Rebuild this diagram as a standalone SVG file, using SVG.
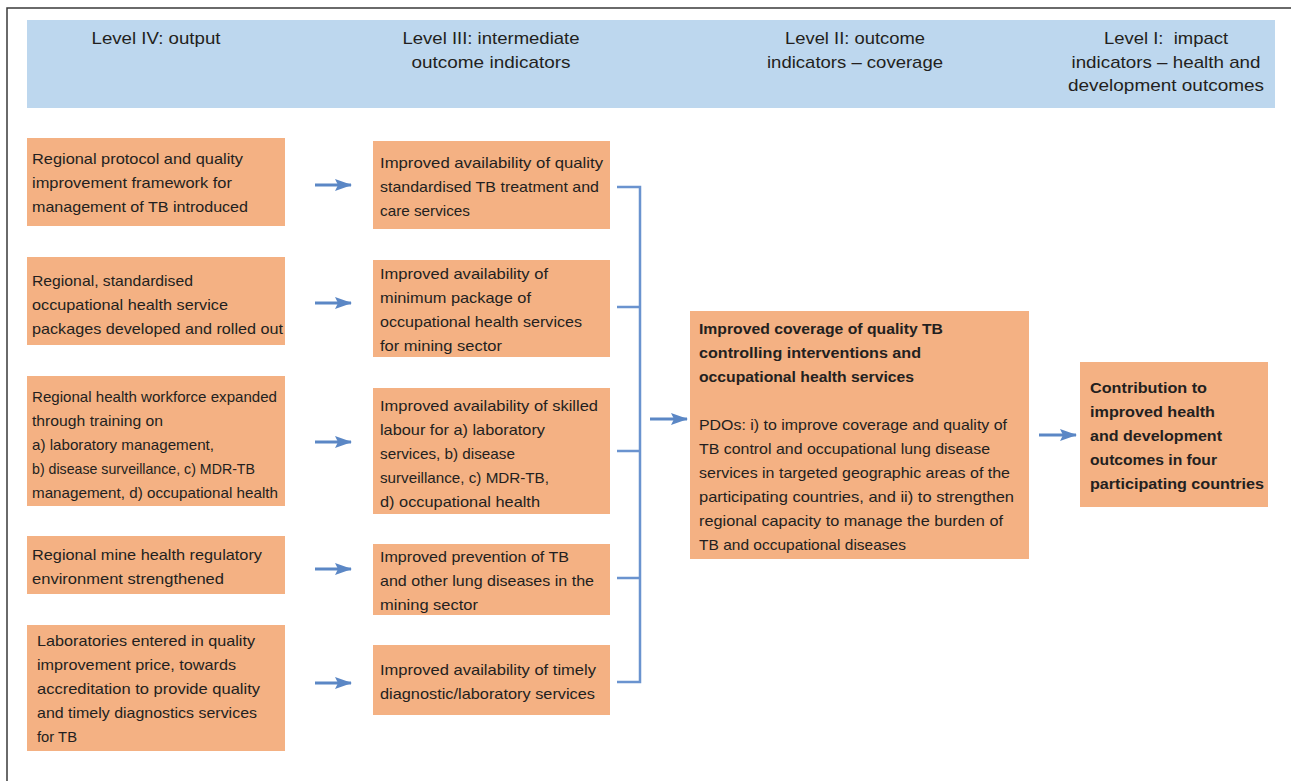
<svg xmlns="http://www.w3.org/2000/svg" width="1291" height="781" viewBox="0 0 1291 781">
<defs>
<style>
.box{fill:#f4b183;}
.hdr{fill:#bdd7ee;}
.t{font-family:"Liberation Sans",Arial,sans-serif;font-size:15px;fill:#231f20;}
.b{font-weight:bold;}
.h{font-family:"Liberation Sans",Arial,sans-serif;font-size:17px;fill:#231f20;text-anchor:middle;}
.ln{stroke:#6a93cf;stroke-width:2.5;fill:none;}
.ar{stroke:#5b87c5;stroke-width:3;fill:none;}
</style>
<marker id="ah" markerWidth="17" markerHeight="12" refX="16" refY="6" orient="auto" markerUnits="userSpaceOnUse">
<path d="M0,0 L17,6 L0,12 L3,6 Z" fill="#5b87c5"/>
</marker>
</defs>
<rect width="1291" height="781" fill="#ffffff"/>
<path d="M7,781 V8 H1291" fill="none" stroke="#3a3a3a" stroke-width="1.5"/>

<g id="header">
<rect class="hdr" x="27" y="20" width="1248" height="88"/>
<text class="h" x="156" y="44" textLength="129" lengthAdjust="spacingAndGlyphs">Level IV: output</text>
<text class="h" x="491" y="44" textLength="177" lengthAdjust="spacingAndGlyphs">Level III: intermediate</text>
<text class="h" x="491" y="68" textLength="159" lengthAdjust="spacingAndGlyphs">outcome indicators</text>
<text class="h" x="855" y="44" textLength="140" lengthAdjust="spacingAndGlyphs">Level II: outcome</text>
<text class="h" x="855" y="68" textLength="176" lengthAdjust="spacingAndGlyphs">indicators – coverage</text>
<text class="h" x="1166" y="44" textLength="124" lengthAdjust="spacingAndGlyphs" xml:space="preserve">Level I:  impact</text>
<text class="h" x="1166" y="68" textLength="189" lengthAdjust="spacingAndGlyphs">indicators – health and</text>
<text class="h" x="1166" y="91" textLength="196" lengthAdjust="spacingAndGlyphs">development outcomes</text>
</g>

<g id="out1">
<rect class="box" x="27" y="138" width="258" height="88"/>
<text class="t" x="32" y="164" textLength="211" lengthAdjust="spacingAndGlyphs">Regional protocol and quality</text>
<text class="t" x="32" y="188" textLength="200" lengthAdjust="spacingAndGlyphs">improvement framework for</text>
<text class="t" x="32" y="212" textLength="216" lengthAdjust="spacingAndGlyphs">management of TB introduced</text>
</g>
<g id="out2">
<rect class="box" x="27" y="257" width="258" height="88"/>
<text class="t" x="32" y="286" textLength="161" lengthAdjust="spacingAndGlyphs">Regional, standardised</text>
<text class="t" x="32" y="310" textLength="196" lengthAdjust="spacingAndGlyphs">occupational health service</text>
<text class="t" x="32" y="334" textLength="251" lengthAdjust="spacingAndGlyphs">packages developed and rolled out</text>
</g>
<g id="out3">
<rect class="box" x="27" y="376" width="258" height="130"/>
<text class="t" x="32" y="402" textLength="245" lengthAdjust="spacingAndGlyphs">Regional health workforce expanded</text>
<text class="t" x="32" y="426" textLength="131" lengthAdjust="spacingAndGlyphs">through training on</text>
<text class="t" x="32" y="450" textLength="182" lengthAdjust="spacingAndGlyphs">a) laboratory management,</text>
<text class="t" x="32" y="474" textLength="223" lengthAdjust="spacingAndGlyphs">b) disease surveillance, c) MDR-TB</text>
<text class="t" x="32" y="498" textLength="246" lengthAdjust="spacingAndGlyphs">management, d) occupational health</text>
</g>
<g id="out4">
<rect class="box" x="27" y="536" width="258" height="58"/>
<text class="t" x="32" y="560" textLength="230" lengthAdjust="spacingAndGlyphs">Regional mine health regulatory</text>
<text class="t" x="32" y="584" textLength="192" lengthAdjust="spacingAndGlyphs">environment strengthened</text>
</g>
<g id="out5">
<rect class="box" x="27" y="625" width="258" height="126"/>
<text class="t" x="37" y="646" textLength="218" lengthAdjust="spacingAndGlyphs">Laboratories entered in quality</text>
<text class="t" x="37" y="670" textLength="199" lengthAdjust="spacingAndGlyphs">improvement price, towards</text>
<text class="t" x="37" y="694" textLength="223" lengthAdjust="spacingAndGlyphs">accreditation to provide quality</text>
<text class="t" x="37" y="718" textLength="220" lengthAdjust="spacingAndGlyphs">and timely diagnostics services</text>
<text class="t" x="37" y="742" textLength="40" lengthAdjust="spacingAndGlyphs">for TB</text>
</g>

<g id="int1">
<rect class="box" x="373" y="141" width="237" height="88"/>
<text class="t" x="380" y="168" textLength="223" lengthAdjust="spacingAndGlyphs">Improved availability of quality</text>
<text class="t" x="380" y="192" textLength="219" lengthAdjust="spacingAndGlyphs">standardised TB treatment and</text>
<text class="t" x="380" y="216" textLength="90" lengthAdjust="spacingAndGlyphs">care services</text>
</g>
<g id="int2">
<rect class="box" x="373" y="260" width="237" height="97"/>
<text class="t" x="380" y="279" textLength="168" lengthAdjust="spacingAndGlyphs">Improved availability of</text>
<text class="t" x="380" y="303" textLength="151" lengthAdjust="spacingAndGlyphs">minimum package of</text>
<text class="t" x="380" y="327" textLength="202" lengthAdjust="spacingAndGlyphs">occupational health services</text>
<text class="t" x="380" y="351" textLength="122" lengthAdjust="spacingAndGlyphs">for mining sector</text>
</g>
<g id="int3">
<rect class="box" x="373" y="388" width="237" height="126"/>
<text class="t" x="380" y="411" textLength="218" lengthAdjust="spacingAndGlyphs">Improved availability of skilled</text>
<text class="t" x="380" y="435" textLength="165" lengthAdjust="spacingAndGlyphs">labour for a) laboratory</text>
<text class="t" x="380" y="459" textLength="135" lengthAdjust="spacingAndGlyphs">services, b) disease</text>
<text class="t" x="380" y="483" textLength="169" lengthAdjust="spacingAndGlyphs">surveillance, c) MDR-TB,</text>
<text class="t" x="380" y="507" textLength="160" lengthAdjust="spacingAndGlyphs">d) occupational health</text>
</g>
<g id="int4">
<rect class="box" x="373" y="544" width="237" height="71"/>
<text class="t" x="380" y="562" textLength="189" lengthAdjust="spacingAndGlyphs">Improved prevention of TB</text>
<text class="t" x="380" y="586" textLength="214" lengthAdjust="spacingAndGlyphs">and other lung diseases in the</text>
<text class="t" x="380" y="610" textLength="98" lengthAdjust="spacingAndGlyphs">mining sector</text>
</g>
<g id="int5">
<rect class="box" x="373" y="645" width="237" height="70"/>
<text class="t" x="380" y="675" textLength="216" lengthAdjust="spacingAndGlyphs">Improved availability of timely</text>
<text class="t" x="380" y="699" textLength="215" lengthAdjust="spacingAndGlyphs">diagnostic/laboratory services</text>
</g>

<g id="coverage">
<rect class="box" x="690" y="311" width="339" height="248"/>
<text class="t b" x="699" y="334" textLength="244" lengthAdjust="spacingAndGlyphs">Improved coverage of quality TB</text>
<text class="t b" x="699" y="358" textLength="222" lengthAdjust="spacingAndGlyphs">controlling interventions and</text>
<text class="t b" x="699" y="382" textLength="215" lengthAdjust="spacingAndGlyphs">occupational health services</text>
<text class="t" x="699" y="430" textLength="308" lengthAdjust="spacingAndGlyphs">PDOs: i) to improve coverage and quality of</text>
<text class="t" x="699" y="454" textLength="291" lengthAdjust="spacingAndGlyphs">TB control and occupational lung disease</text>
<text class="t" x="699" y="478" textLength="311" lengthAdjust="spacingAndGlyphs">services in targeted geographic areas of the</text>
<text class="t" x="699" y="502" textLength="315" lengthAdjust="spacingAndGlyphs">participating countries, and ii) to strengthen</text>
<text class="t" x="699" y="526" textLength="304" lengthAdjust="spacingAndGlyphs">regional capacity to manage the burden of</text>
<text class="t" x="699" y="550" textLength="207" lengthAdjust="spacingAndGlyphs">TB and occupational diseases</text>
</g>

<g id="impact">
<rect class="box" x="1080" y="362" width="188" height="145"/>
<text class="t b" x="1090" y="393" textLength="117" lengthAdjust="spacingAndGlyphs">Contribution to</text>
<text class="t b" x="1090" y="417" textLength="125" lengthAdjust="spacingAndGlyphs">improved health</text>
<text class="t b" x="1090" y="441" textLength="132" lengthAdjust="spacingAndGlyphs">and development</text>
<text class="t b" x="1090" y="465" textLength="127" lengthAdjust="spacingAndGlyphs">outcomes in four</text>
<text class="t b" x="1090" y="489" textLength="174" lengthAdjust="spacingAndGlyphs">participating countries</text>
</g>

<g id="connectors">
<line class="ar" x1="315" y1="185" x2="351" y2="185" marker-end="url(#ah)"/>
<line class="ar" x1="315" y1="303" x2="351" y2="303" marker-end="url(#ah)"/>
<line class="ar" x1="315" y1="442" x2="351" y2="442" marker-end="url(#ah)"/>
<line class="ar" x1="315" y1="569" x2="351" y2="569" marker-end="url(#ah)"/>
<line class="ar" x1="315" y1="683" x2="351" y2="683" marker-end="url(#ah)"/>
<path class="ln" d="M617,187 H640 V682 H617 M617,307 H640 M617,451 H640 M617,578 H640"/>
<line class="ar" x1="650" y1="419" x2="687" y2="419" marker-end="url(#ah)"/>
<line class="ar" x1="1039" y1="435" x2="1076" y2="435" marker-end="url(#ah)"/>
</g>
</svg>
